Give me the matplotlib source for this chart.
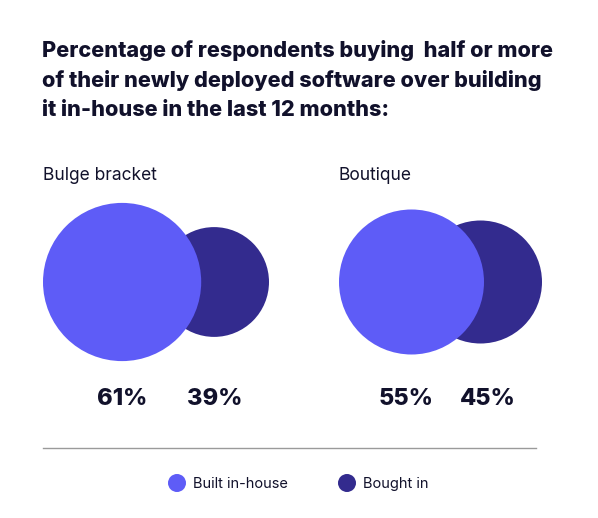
import matplotlib.pyplot as plt
from matplotlib.patches import Circle

# Data
groups = ["Bulge bracket", "Boutique"]
built_in_house = [61, 55]
bought_in = [39, 45]
series_names = ["Built in-house", "Bought in"]

title = ("Percentage of respondents buying  half or more\n"
         "of their newly deployed software over building\n"
         "it in-house in the last 12 months:")

BUILT_COLOR = "#5E5CF7"
BOUGHT_COLOR = "#332B8E"
TEXT_COLOR = "#11112B"

plt.rcParams["font.family"] = ["Inter", "DejaVu Sans"]

W, H = 598, 518
fig = plt.figure(figsize=(W / 100, H / 100), dpi=100)
ax = fig.add_axes([0, 0, 1, 1])
ax.set_xlim(0, W)
ax.set_ylim(H, 0)
ax.axis("off")

def radius(v):
    # circle radius (px) from percentage
    return 1.1 * v + 12

# layout per group: left edge of built circle, right edge of bought circle
group_left = [43, 339]
group_right = [269, 542]
cy = 282
label_x = [(122, 215), (406, 488)]

ax.text(42, 80, title, fontsize=15.6, fontweight="heavy", color=TEXT_COLOR,
        va="center", ha="left", linespacing=1.52)

for i, g in enumerate(groups):
    r1 = radius(built_in_house[i])
    r2 = radius(bought_in[i])
    c1 = group_left[i] + r1
    c2 = group_right[i] - r2
    ax.add_patch(Circle((c2, cy), r2, color=BOUGHT_COLOR, lw=0, zorder=1))
    ax.add_patch(Circle((c1, cy), r1, color=BUILT_COLOR, lw=0, zorder=2))
    ax.text(group_left[i], 175, g, fontsize=12.5, color=TEXT_COLOR,
            ha="left", va="center")
    ax.text(label_x[i][0], 399, f"{built_in_house[i]}%", fontsize=17,
            fontweight="heavy", color=TEXT_COLOR, ha="center", va="center")
    ax.text(label_x[i][1], 399, f"{bought_in[i]}%", fontsize=17,
            fontweight="heavy", color=TEXT_COLOR, ha="center", va="center")

ax.plot([43, 536], [448, 448], color="#9a9a9a", lw=1)

# legend
for x, name, col in zip([177, 347], series_names, [BUILT_COLOR, BOUGHT_COLOR]):
    ax.add_patch(Circle((x, 483), 9, color=col, lw=0))
    ax.text(x + 16, 484, name, fontsize=10.5, color=TEXT_COLOR,
            ha="left", va="center")

fig.savefig("out.png", dpi=100, facecolor="white")
